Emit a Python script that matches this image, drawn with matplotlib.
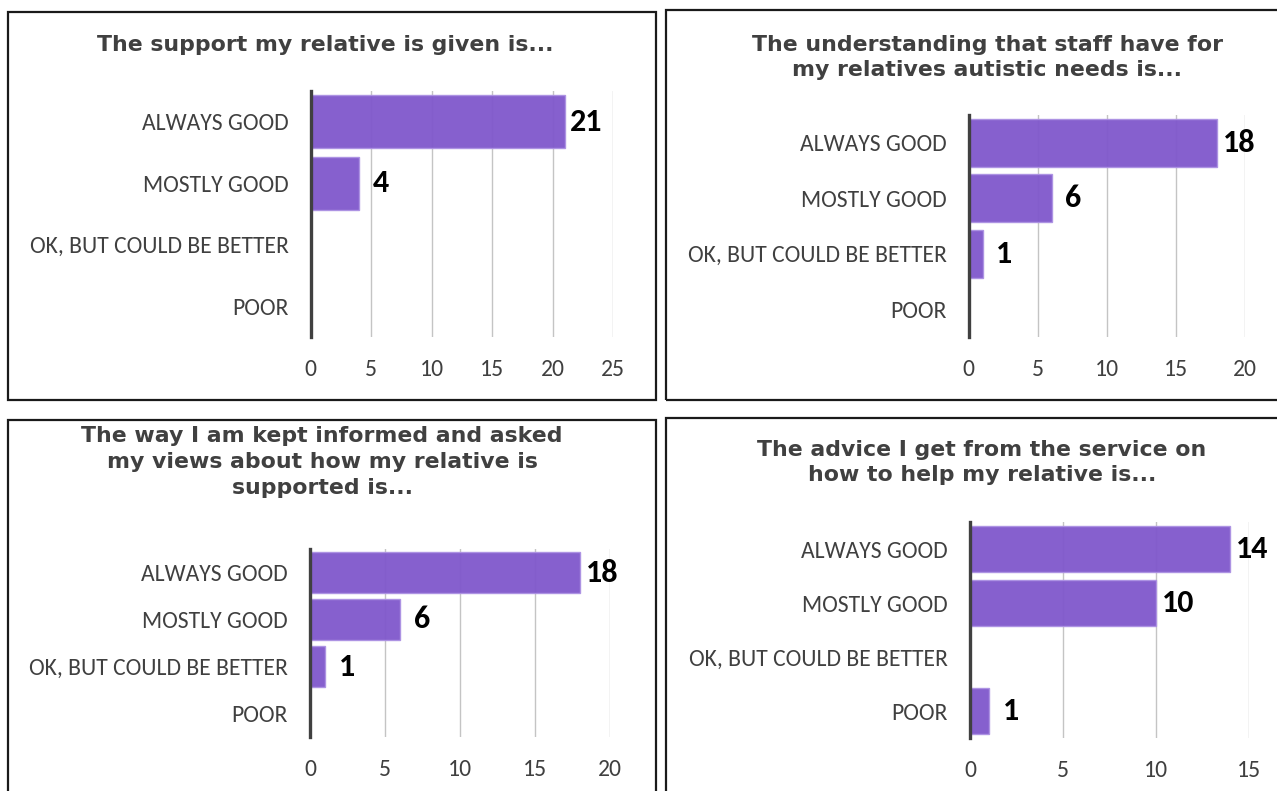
import matplotlib
matplotlib.use("Agg")
import matplotlib.pyplot as plt
from matplotlib.patches import Rectangle
from matplotlib.transforms import offset_copy

categories = ["ALWAYS GOOD", "MOSTLY GOOD", "OK, BUT COULD BE BETTER", "POOR"]

titles = [
    "The support my relative is given is...",
    "The understanding that staff have for\nmy relatives autistic needs is...",
    "The way I am kept informed and asked\nmy views about how my relative is\nsupported is...",
    "The advice I get from the service on\nhow to help my relative is...",
]
values_support = [21, 4, 0, 0]
values_understanding = [18, 6, 1, 0]
values_informed = [18, 6, 1, 0]
values_advice = [14, 10, 0, 1]
xmax = [25, 20, 20, 15]
xstep = 5

W, H = 1277, 791
fig = plt.figure(figsize=(W / 100, H / 100), dpi=100)
fig.patch.set_facecolor("white")

def px_axes(l, r, t, b):
    return [l / W, 1 - b / H, (r - l) / W, (b - t) / H]

axes_px = [
    (310.7, 613, 91, 337),
    (968.7, 1245, 115, 337),
    (310, 610, 549, 737),
    (970, 1249, 522, 738),
]
title_px = [(325, 45), (987, 57.5), (322, 462), (982, 462.5)]
borders_px = [(8, 656, 12, 400), (666, 1285, 10, 400), (8, 656, 420, 800), (666, 1285, 418, 800)]

for (l, r, t, b) in borders_px:
    fig.patches.append(Rectangle((l / W, 1 - b / H), (r - l) / W, (b - t) / H,
                                 transform=fig.transFigure, fill=False,
                                 edgecolor="#1a1a1a", linewidth=1.6, zorder=0))

all_values = [values_support, values_understanding, values_informed, values_advice]
LABEL_FONT = ["Carlito", "Lato", "DejaVu Sans"]
TEXT_COL = "#404040"

for i, vals in enumerate(all_values):
    ax = fig.add_axes(px_axes(*axes_px[i]))
    y = list(range(len(categories)))
    ax.barh(y, vals, height=0.86, color="#8159CC", alpha=0.96,
            edgecolor="#AD92E3", linewidth=1.0, zorder=3)
    ax.set_xlim(0, xmax[i])
    ax.set_ylim(len(categories) - 0.5, -0.5)
    ax.set_xticks(list(range(0, xmax[i] + 1, xstep)))
    ax.set_yticks(y)
    ax.set_yticklabels(categories, family=LABEL_FONT, fontsize=17, color=TEXT_COL)
    for lab in ax.get_xticklabels():
        lab.set_family(LABEL_FONT)
        lab.set_fontsize(17)
        lab.set_color(TEXT_COL)
    ax.tick_params(axis="y", length=0, pad=16)
    ax.tick_params(axis="x", length=0, pad=16)
    for s in ["top", "right", "bottom"]:
        ax.spines[s].set_visible(False)
    ax.spines["left"].set_color("#404040")
    ax.spines["left"].set_linewidth(2.4)
    ax.spines["left"].set_zorder(5)
    ax.xaxis.grid(True, color="#C4C4C4", linewidth=1.0, zorder=0)
    ax.set_axisbelow(True)
    ax.patch.set_alpha(0)
    trans = offset_copy(ax.transData, fig=fig, x=22, y=0, units="dots")
    for yi, v in zip(y, vals):
        if v > 0:
            ax.text(v, yi, str(v), transform=trans, ha="center", va="center",
                    family=LABEL_FONT, fontweight="bold", fontsize=23, color="black",
                    clip_on=False)
    tx, ty = title_px[i]
    fig.text(tx / W, 1 - ty / H, titles[i], ha="center", va="center",
             family="DejaVu Sans", fontweight="bold", fontsize=15.8,
             color="#404040", linespacing=1.36)

fig.savefig("out.png", dpi=100, facecolor="white")
